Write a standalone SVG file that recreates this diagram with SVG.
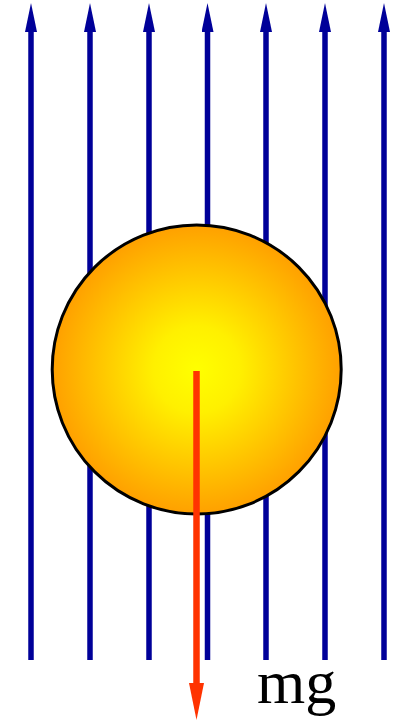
<svg xmlns="http://www.w3.org/2000/svg" width="403" height="721" viewBox="0 0 403 721">
<style>
.field{stroke:#000099;stroke-width:5.5;fill:none}
.force{stroke:#ff3300;stroke-width:6.5;fill:none}
.label{font-family:"Liberation Serif",serif;font-size:62px;fill:#000}
</style>
<defs>
<marker id="ah" viewBox="0 0 29 12" refX="0" refY="6" markerWidth="29" markerHeight="12" markerUnits="userSpaceOnUse" orient="auto">
<path d="M0 0 L29 6 L0 12 Z" fill="#000099"/>
</marker>
<marker id="ar" viewBox="0 0 37 15" refX="0" refY="7.5" markerWidth="37" markerHeight="15" markerUnits="userSpaceOnUse" orient="auto">
<path d="M0 0 L37 7.5 L0 15 Z" fill="#ff3300"/>
</marker>
<radialGradient id="g" cx="0.5" cy="0.5" r="0.5">
<stop offset="0" stop-color="#ffff00"/>
<stop offset="0.3" stop-color="#fff000"/>
<stop offset="1" stop-color="#ffa000"/>
</radialGradient>
</defs>
<g id="connectors">
<line class="field" x1="31" y1="660" x2="31" y2="32" marker-end="url(#ah)"/>
<line class="field" x1="90" y1="660" x2="90" y2="32" marker-end="url(#ah)"/>
<line class="field" x1="149" y1="660" x2="149" y2="32" marker-end="url(#ah)"/>
<line class="field" x1="207.5" y1="660" x2="207.5" y2="32" marker-end="url(#ah)"/>
<line class="field" x1="266" y1="660" x2="266" y2="32" marker-end="url(#ah)"/>
<line class="field" x1="325" y1="660" x2="325" y2="32" marker-end="url(#ah)"/>
<line class="field" x1="384" y1="660" x2="384" y2="32" marker-end="url(#ah)"/>
</g>
<g id="ball">
<circle cx="196.7" cy="369.5" r="144.5" fill="url(#g)" stroke="#000" stroke-width="3"/>
</g>
<g id="force">
<line class="force" x1="196.5" y1="371" x2="196.5" y2="683" marker-end="url(#ar)"/>
</g>
<g id="label">
<text class="label" x="257" y="703">mg</text>
</g>
</svg>
